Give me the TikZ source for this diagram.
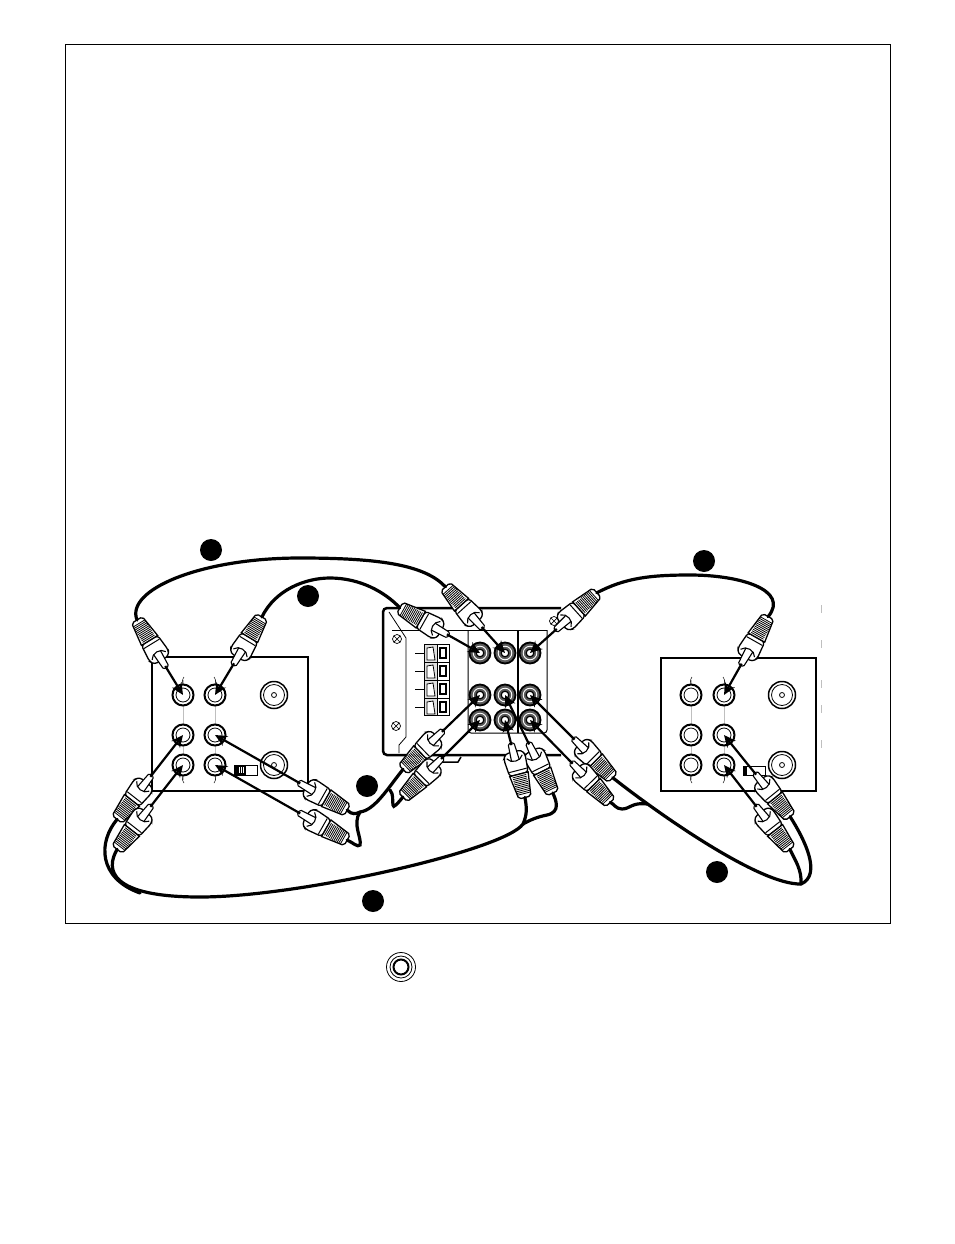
\documentclass[tikz,border=0pt]{standalone}
\usetikzlibrary{arrows.meta, calc}

\tikzset{
    cable/.style={line width=3.2pt, line cap=round},
    lead/.style={line width=2.2pt, -{Stealth[length=12pt,width=11pt]}},
    jackring/.style={circle, draw, fill=white, line width=2pt, minimum size=21pt, inner sep=0pt},
    coaxring/.style={circle, draw, fill=white, line width=1.5pt, minimum size=27pt, inner sep=0pt},
    dotnode/.style={circle, fill=black, minimum size=22pt, inner sep=0pt},
    hairline/.style={line width=0.5pt, black!25},
}

% one plug: name, jack, direction, distance from jack to cable end
\newcommand{\rcaplug}[4]{
    \begin{scope}[shift={(#2)}, rotate=#3, xshift=#4]
        \coordinate (#1) at (0,0);
        \coordinate (#1-pin) at (-54,0);
        \draw[fill=white, line width=1.3pt, rounded corners=3pt] (-24,-9.5) -- (-42,-11) -- (-47,-8) -- (-47,8) -- (-42,11) -- (-24,9.5) -- cycle;
        \draw[fill=white, line width=1.3pt] (-2,-6.5) -- (-24,-9.5) -- (-24,9.5) -- (-2,6.5) -- (0,4) -- (0,-4) -- cycle;
        \foreach \u in {-22,-20.2,...,-3} \draw[line width=0.8pt] (\u,-7) -- (\u,7);
        \draw[line width=1pt] (-28,-9) -- (-28,9);
        \draw[fill=white, line width=1.1pt, rounded corners=1.5pt] (-38,-4) -- (-56,-3) -- (-56,3) -- (-38,4);
        \draw[line width=1.1pt] (-42,-8) .. controls (-36,-5) and (-36,5) .. (-42,8);
    \end{scope}
    \draw[lead] (#1-pin) -- (#2.center);
}

\begin{document}
\begin{tikzpicture}[x=1pt, y=-1pt]
    \useasboundingbox (0,0) rectangle (954,1244);
    \draw[line width=1pt] (65,45) rectangle (890,923);

    % left box
    \draw[line width=1.6pt, fill=white] (152,657) rectangle (308,791);
    \node[coaxring] (lcoaxa) at (274,695) {};
    \node[coaxring] (lcoaxb) at (274,765) {};
    \draw[line width=0.8pt] (lcoaxa) circle (10.5pt) (lcoaxa) circle (2.5pt);
    \draw[line width=0.8pt] (lcoaxb) circle (10.5pt) (lcoaxb) circle (2.5pt);
    \foreach \x in {183,215} \draw[hairline] (\x,680) -- (\x,780);
    \draw[line width=0.5pt] (184,677) .. controls (182,680) and (182,682) .. (183,685);
    \draw[line width=0.5pt] (214,677) .. controls (216,680) and (216,682) .. (215,685);
    \draw[line width=0.5pt] (183,775) .. controls (182,778) and (182,780) .. (184,783);
    \draw[line width=0.5pt] (215,775) .. controls (216,778) and (216,780) .. (214,783);
    \foreach \n/\p in {la/{183,695}, lb/{215,695}, lc/{183,735}, ld/{215,735}, le/{183,765}, lf/{215,765}} {
        \node[jackring] (\n) at (\p) {};
        \draw[line width=0.8pt] (\n) circle (7pt);
    }
    \draw[line width=1pt, fill=white] (234,765) rectangle (257,775);
    \fill (234,765) rectangle (246,775);
    \foreach \x in {239,241,243} \draw[white, line width=0.8pt] (\x,767) -- (\x,773);

    % right box
    \draw[line width=1.6pt, fill=white] (661,658) rectangle (816,791);
    \node[coaxring] (rcoaxa) at (782,695) {};
    \node[coaxring] (rcoaxb) at (782,765) {};
    \draw[line width=0.8pt] (rcoaxa) circle (10.5pt) (rcoaxa) circle (2.5pt);
    \draw[line width=0.8pt] (rcoaxb) circle (10.5pt) (rcoaxb) circle (2.5pt);
    \foreach \x in {691,724} \draw[hairline] (\x,680) -- (\x,780);
    \draw[line width=0.5pt] (692,677) .. controls (690,680) and (690,682) .. (691,685);
    \draw[line width=0.5pt] (723,677) .. controls (725,680) and (725,682) .. (724,685);
    \draw[line width=0.5pt] (691,775) .. controls (690,778) and (690,780) .. (692,783);
    \draw[line width=0.5pt] (724,775) .. controls (725,778) and (725,780) .. (723,783);
    \foreach \n/\p in {ra/{691,695}, rb/{724,695}, rc/{691,735}, rd/{724,735}, re/{691,765}, rf/{724,765}} {
        \node[jackring] (\n) at (\p) {};
        \draw[line width=0.8pt] (\n) circle (7pt);
    }
    \draw[line width=1pt, fill=white] (743,766) rectangle (765,775);
    \fill (743,766) rectangle (747,775);
    \foreach \y in {605,640,680,705,740} \draw[hairline] (821,\y) -- (821,\y+8);

    % center unit
    \draw[line width=2.5pt, rounded corners=4pt] (561,608) -- (383,608) -- (383,755) -- (561,755);
    \draw[line width=1.5pt] (442,762) -- (458,762) -- (461,757);
    \draw[line width=0.8pt] (389,612) -- (406,638) -- (406,737) -- (399,745) -- (399,753);
    \draw[line width=0.8pt] (392,630) -- (547,630);
    \draw[line width=1pt, rounded corners=3pt] (468,630) -- (468,733) -- (518,733);
    \draw[line width=1pt, rounded corners=3pt] (518,733) -- (547,733) -- (547,630);
    \draw[line width=1.5pt] (518,630) -- (518,733);
    \foreach \p in {{397,639},{396,726},{554,621}} {
        \draw[line width=0.7pt, fill=white] (\p) circle (4.5pt);
        \draw[line width=0.7pt] ($(\p)+(-3,-3)$) -- ($(\p)+(3,3)$) ($(\p)+(-3,3)$) -- ($(\p)+(3,-3)$);
    }
    \draw[line width=1pt, fill=black!12] (424,644) rectangle (437,715);
    \draw[line width=1pt] (437,644) rectangle (449,715);
    \foreach \y in {644,662,680,698} {
        \draw[line width=1pt] (424,\y) -- (449,\y);
        \draw[line width=1.2pt, fill=white] (440,\y+4) rectangle (446,\y+14);
        \draw[line width=0.8pt, fill=white] (427,\y+4) -- (433,\y+3) -- (435,\y+16) -- (427,\y+16) -- cycle;
        \draw[line width=0.8pt] (415,\y+9) -- (424,\y+9);
    }
    \foreach \n/\p in {ca/{480,653}, cb/{505,653}, cc/{530,653}, cd/{480,695}, ce/{505,695}, cf/{530,695}, cg/{480,720}, ch/{505,720}, ci/{530,720}} {
        \node[jackring, fill=black!65, line width=1.8pt] (\n) at (\p) {};
        \draw[white, line width=0.9pt] (\n) circle (6.8pt);
        \draw[fill=white, line width=1.2pt] (\n) circle (3.8pt);
    }

    % cable joints
    \coordinate (splita) at (360,812);
    \coordinate (splitb) at (390,790);
    \coordinate (splitc) at (523,824);
    \coordinate (splitd) at (647,804);
    \coordinate (splite) at (801,884);
    \coordinate (splitf) at (140,893);

    % plugs
    \rcaplug{pa}{la}{121.5}{88}
    \rcaplug{pb}{lb}{59}{91}
    \rcaplug{pc}{lc}{232}{107}
    \rcaplug{pd}{le}{232}{107}
    \rcaplug{pe}{ld}{-29.6}{152}
    \rcaplug{pf}{lf}{-29.6}{152}
    \rcaplug{qa}{ca}{150.6}{92}
    \rcaplug{qb}{cb}{132}{89}
    \rcaplug{qc}{cc}{42}{90}
    \rcaplug{qd}{cd}{224}{107}
    \rcaplug{qe}{cg}{225}{109}
    \rcaplug{qf}{ce}{-64}{109}
    \rcaplug{qg}{ch}{-75.6}{80}
    \rcaplug{qh}{cf}{-45}{117}
    \rcaplug{qi}{ci}{-45.7}{115}
    \rcaplug{sa}{rb}{60.6}{90}
    \rcaplug{sb}{rd}{-51}{105}
    \rcaplug{sc}{rf}{-52}{107}

    % cables
    \draw[cable] (pa) .. controls (125,590) and (200,558) .. (300,558) .. controls (380,558) and (425,565) .. (qb);
    \draw[cable] (pb) .. controls (275,590) and (305,578) .. (330,578) .. controls (360,578) and (385,592) .. (qa);
    \draw[cable] (qc) .. controls (625,578) and (650,575) .. (690,575) .. controls (740,575) and (790,590) .. (sa);
    \draw[cable] (pe) .. controls (352,815) and (356,814) .. (splita) .. controls (375,810) and (388,788) .. (qd);
    \draw[cable] (pf) .. controls (352,842) and (358,848) .. (360,845) .. controls (362,838) and (352,824) .. (splita);
    \draw[cable] (qe) .. controls (398,803) and (393,809) .. (393,805) .. controls (392,800) and (394,795) .. (splitb);
    \draw[cable] (qf) .. controls (556,800) and (561,812) .. (547,815) .. controls (537,817) and (530,820) .. (splitc);
    \draw[cable] (qg) .. controls (527,808) and (527,815) .. (splitc) .. controls (505,850) and (300,897) .. (200,897) .. controls (110,897) and (105,870) .. (pd);
    \draw[cable] (pc) .. controls (98,842) and (98,878) .. (splitf);
    \draw[cable] (qh) .. controls (660,815) and (760,885) .. (splite);
    \draw[cable] (qi) .. controls (614,804) and (616,809) .. (622,809) .. controls (630,809) and (632,802) .. (splitd);
    \draw[cable] (sb) .. controls (805,840) and (822,875) .. (splite);
    \draw[cable] (sc) .. controls (795,860) and (802,870) .. (splite);

    % numbered dots
    \node[dotnode] (dota) at (211,550) {};
    \node[dotnode] (dotb) at (308,596) {};
    \node[dotnode] (dotc) at (704,561) {};
    \node[dotnode] (dotd) at (367,786) {};
    \node[dotnode] (dote) at (717,872) {};
    \node[dotnode] (dotf) at (373,901) {};

    % symbol under the frame
    \node[circle, draw, line width=0.8pt, minimum size=29pt, inner sep=0pt] (symb) at (401,967) {};
    \draw[line width=0.8pt] (symb) circle (11pt);
    \draw[line width=2pt] (symb) circle (7.5pt);
\end{tikzpicture}
\end{document}
